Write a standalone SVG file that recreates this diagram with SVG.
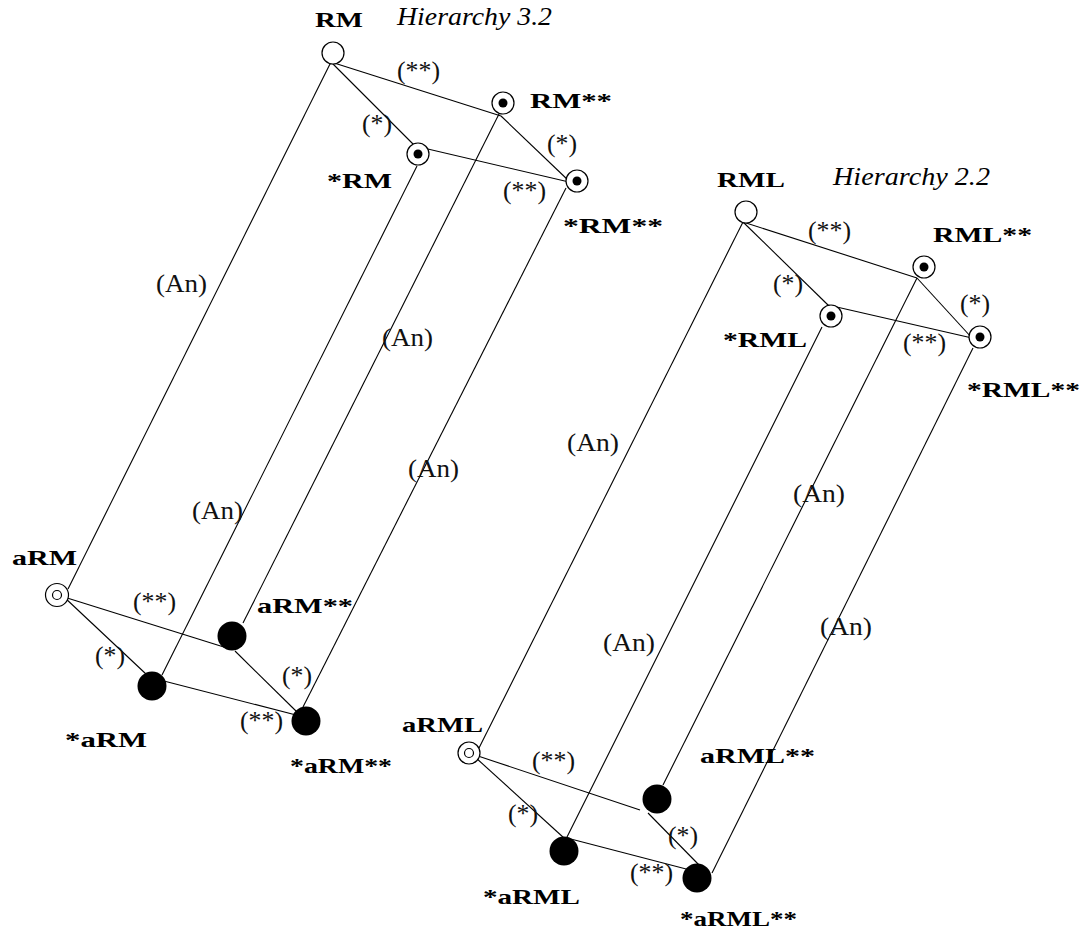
<svg xmlns="http://www.w3.org/2000/svg" width="1086" height="934" viewBox="0 0 1086 934">
<style>
.bg{fill:#fff}
.e{stroke:#000;stroke-width:1.1;fill:none}
.open{fill:#fff;stroke:#000;stroke-width:1.2}
.dot{fill:#000}
.full{fill:#000}
.lb{font-family:"Liberation Serif",serif;font-weight:bold;font-size:22px;fill:#000}
.it{font-family:"Liberation Serif",serif;font-style:italic;font-size:26px;fill:#000}
.el{font-family:"Liberation Serif",serif;font-size:25px;fill:#111}
</style>
<rect class="bg" x="0" y="0" width="1086" height="934"/>
<g id="connectors">
<line class="e" x1="331" y1="62" x2="501" y2="116"/>
<line class="e" x1="501" y1="116" x2="569" y2="181"/>
<line class="e" x1="331" y1="62" x2="415" y2="146"/>
<line class="e" x1="415" y1="146" x2="569" y2="182"/>
<line class="e" x1="331" y1="62" x2="68" y2="589"/>
<line class="e" x1="417" y1="166" x2="162" y2="675"/>
<line class="e" x1="500" y1="112" x2="243" y2="623"/>
<line class="e" x1="566" y1="188" x2="303" y2="707"/>
<line class="e" x1="64" y1="597" x2="227" y2="648"/>
<line class="e" x1="235" y1="651" x2="297" y2="712"/>
<line class="e" x1="64" y1="597" x2="146" y2="674"/>
<line class="e" x1="160" y1="680" x2="296" y2="715"/>
<line class="e" x1="743" y1="222" x2="917" y2="278"/>
<line class="e" x1="917" y1="278" x2="972" y2="338"/>
<line class="e" x1="743" y1="222" x2="828" y2="305"/>
<line class="e" x1="828" y1="305" x2="972" y2="338"/>
<line class="e" x1="743" y1="222" x2="479" y2="748"/>
<line class="e" x1="822" y1="327" x2="567" y2="837"/>
<line class="e" x1="917" y1="278" x2="663" y2="785"/>
<line class="e" x1="973" y1="348" x2="712" y2="873"/>
<line class="e" x1="475" y1="755" x2="640" y2="810"/>
<line class="e" x1="648" y1="813" x2="700" y2="866"/>
<line class="e" x1="475" y1="757" x2="564" y2="838"/>
<line class="e" x1="567" y1="838" x2="690" y2="870"/>
</g>
<g id="edge-labels">
<text class="el" x="397" y="79" textLength="43" lengthAdjust="spacingAndGlyphs">(**)</text>
<text class="el" x="362" y="132" textLength="30" lengthAdjust="spacingAndGlyphs">(*)</text>
<text class="el" x="547" y="152" textLength="30" lengthAdjust="spacingAndGlyphs">(*)</text>
<text class="el" x="503" y="199" textLength="43" lengthAdjust="spacingAndGlyphs">(**)</text>
<text class="el" x="133" y="610" textLength="43" lengthAdjust="spacingAndGlyphs">(**)</text>
<text class="el" x="95" y="664" textLength="30" lengthAdjust="spacingAndGlyphs">(*)</text>
<text class="el" x="282" y="684" textLength="30" lengthAdjust="spacingAndGlyphs">(*)</text>
<text class="el" x="240" y="729" textLength="43" lengthAdjust="spacingAndGlyphs">(**)</text>
<text class="el" x="808" y="239" textLength="43" lengthAdjust="spacingAndGlyphs">(**)</text>
<text class="el" x="773" y="292" textLength="30" lengthAdjust="spacingAndGlyphs">(*)</text>
<text class="el" x="960" y="312" textLength="30" lengthAdjust="spacingAndGlyphs">(*)</text>
<text class="el" x="903" y="351" textLength="43" lengthAdjust="spacingAndGlyphs">(**)</text>
<text class="el" x="532" y="769" textLength="43" lengthAdjust="spacingAndGlyphs">(**)</text>
<text class="el" x="508" y="822" textLength="30" lengthAdjust="spacingAndGlyphs">(*)</text>
<text class="el" x="668" y="844" textLength="30" lengthAdjust="spacingAndGlyphs">(*)</text>
<text class="el" x="630" y="881" textLength="43" lengthAdjust="spacingAndGlyphs">(**)</text>
<text class="el" x="156" y="292" textLength="51" lengthAdjust="spacingAndGlyphs">(An)</text>
<text class="el" x="382" y="346" textLength="51" lengthAdjust="spacingAndGlyphs">(An)</text>
<text class="el" x="408" y="477" textLength="51" lengthAdjust="spacingAndGlyphs">(An)</text>
<text class="el" x="192" y="519" textLength="51" lengthAdjust="spacingAndGlyphs">(An)</text>
<text class="el" x="567" y="451" textLength="52" lengthAdjust="spacingAndGlyphs">(An)</text>
<text class="el" x="793" y="502" textLength="52" lengthAdjust="spacingAndGlyphs">(An)</text>
<text class="el" x="603" y="651" textLength="52" lengthAdjust="spacingAndGlyphs">(An)</text>
<text class="el" x="820" y="635" textLength="52" lengthAdjust="spacingAndGlyphs">(An)</text>
</g>
<g id="titles">
<text class="it" x="397" y="25" textLength="155" lengthAdjust="spacingAndGlyphs">Hierarchy 3.2</text>
<text class="it" x="833" y="185" textLength="157" lengthAdjust="spacingAndGlyphs">Hierarchy 2.2</text>
</g>
<g id="RM"><circle class="open" cx="333" cy="53" r="11"/><text class="lb" x="315" y="27" textLength="48" lengthAdjust="spacingAndGlyphs">RM</text></g>
<g id="RMss"><circle class="open" cx="503" cy="103" r="11"/><circle class="dot" cx="503" cy="103" r="4.5"/><text class="lb" x="530" y="108" textLength="82" lengthAdjust="spacingAndGlyphs">RM**</text></g>
<g id="sRM"><circle class="open" cx="418" cy="154" r="11"/><circle class="dot" cx="418" cy="154" r="4.5"/><text class="lb" x="327" y="188" textLength="65" lengthAdjust="spacingAndGlyphs">*RM</text></g>
<g id="sRMss"><circle class="open" cx="577" cy="181" r="11"/><circle class="dot" cx="577" cy="181" r="4.5"/><text class="lb" x="563" y="233" textLength="100" lengthAdjust="spacingAndGlyphs">*RM**</text></g>
<g id="aRM"><circle class="open" cx="57" cy="595" r="11.5"/><circle class="open" cx="57" cy="595" r="4.5"/><text class="lb" x="12" y="565" textLength="65" lengthAdjust="spacingAndGlyphs">aRM</text></g>
<g id="aRMss"><circle class="full" cx="232" cy="636" r="14.5"/><text class="lb" x="257" y="613" textLength="96" lengthAdjust="spacingAndGlyphs">aRM**</text></g>
<g id="saRM"><circle class="full" cx="152" cy="686" r="14.5"/><text class="lb" x="65" y="747" textLength="82" lengthAdjust="spacingAndGlyphs">*aRM</text></g>
<g id="saRMss"><circle class="full" cx="306" cy="721" r="14.5"/><text class="lb" x="290" y="773" textLength="102" lengthAdjust="spacingAndGlyphs">*aRM**</text></g>
<g id="RML"><circle class="open" cx="746" cy="212" r="11"/><text class="lb" x="717" y="187" textLength="68" lengthAdjust="spacingAndGlyphs">RML</text></g>
<g id="RMLss"><circle class="open" cx="924" cy="267" r="11"/><circle class="dot" cx="924" cy="267" r="4.5"/><text class="lb" x="933" y="242" textLength="99" lengthAdjust="spacingAndGlyphs">RML**</text></g>
<g id="sRML"><circle class="open" cx="831" cy="316" r="11"/><circle class="dot" cx="831" cy="316" r="4.5"/><text class="lb" x="723" y="347" textLength="84" lengthAdjust="spacingAndGlyphs">*RML</text></g>
<g id="sRMLss"><circle class="open" cx="980" cy="337" r="11"/><circle class="dot" cx="980" cy="337" r="4.5"/><text class="lb" x="967" y="397" textLength="113" lengthAdjust="spacingAndGlyphs">*RML**</text></g>
<g id="aRML"><circle class="open" cx="469" cy="753" r="11"/><circle class="open" cx="469" cy="753" r="4.5"/><text class="lb" x="402" y="732" textLength="81" lengthAdjust="spacingAndGlyphs">aRML</text></g>
<g id="aRMLss"><circle class="full" cx="657" cy="799" r="14.5"/><text class="lb" x="700" y="763" textLength="115" lengthAdjust="spacingAndGlyphs">aRML**</text></g>
<g id="saRML"><circle class="full" cx="564" cy="851" r="14.5"/><text class="lb" x="483" y="904" textLength="97" lengthAdjust="spacingAndGlyphs">*aRML</text></g>
<g id="saRMLss"><circle class="full" cx="697" cy="878" r="14.5"/><text class="lb" x="680" y="926" textLength="117" lengthAdjust="spacingAndGlyphs">*aRML**</text></g>
</svg>
